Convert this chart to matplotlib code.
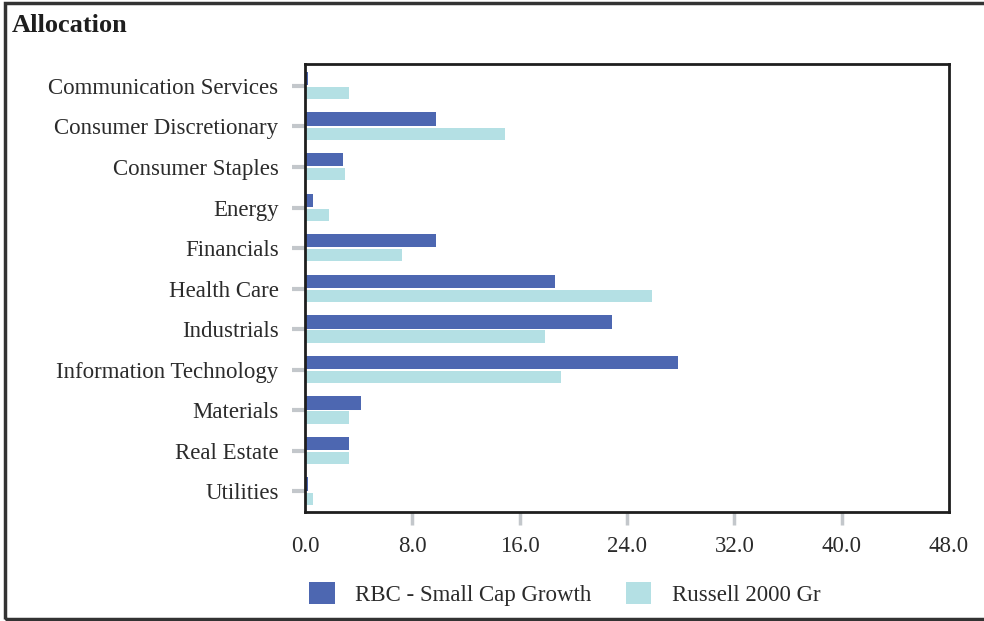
import matplotlib
matplotlib.use("Agg")
import matplotlib.pyplot as plt
from matplotlib.patches import Rectangle, Patch
import numpy as np

sectors = [
    "Communication Services",
    "Consumer Discretionary",
    "Consumer Staples",
    "Energy",
    "Financials",
    "Health Care",
    "Industrials",
    "Information Technology",
    "Materials",
    "Real Estate",
    "Utilities",
]
fund_weights = [0.2, 9.8, 2.8, 0.6, 9.8, 18.6, 22.9, 27.8, 4.2, 3.3, 0.2]
bench_weights = [3.3, 14.9, 3.0, 1.8, 7.2, 25.9, 17.9, 19.1, 3.3, 3.3, 0.6]
x_ticks = [0, 8, 16, 24, 32, 40, 48]
series_names = ["RBC - Small Cap Growth", "Russell 2000 Gr"]

FUND_COLOR = "#4D67B1"
BENCH_COLOR = "#B4E0E4"
TICK_GREY = "#C3C7CB"
TEXT = "#2B2B2B"
FS = 16.5

plt.rcParams["font.family"] = ["Liberation Serif", "DejaVu Serif"]

W, H = 984, 621
fig = plt.figure(figsize=(W / 100, H / 100), dpi=100)

# plot area in pixel terms
left, right, top, bottom = 305, 949, 64, 512
ax = fig.add_axes([left / W, 1 - bottom / H, (right - left) / W, (bottom - top) / H])

y = np.arange(len(sectors))
ax.barh(y - 0.18, fund_weights, height=0.33, color=FUND_COLOR, zorder=2)
ax.barh(y + 0.18, bench_weights, height=0.30, color=BENCH_COLOR, zorder=2)

ax.set_ylim(len(sectors) - 0.49, -0.54)
ax.set_xlim(0, 48)
ax.set_yticks(y)
ax.set_yticklabels(sectors, fontsize=FS, color=TEXT)
ax.set_xticks(x_ticks)
ax.set_xticklabels([f"{v:.1f}" for v in x_ticks], fontsize=FS, color=TEXT)

ax.tick_params(axis="y", length=9.5, width=3, color=TICK_GREY, pad=9.5)
ax.tick_params(axis="x", length=9.5, width=2.5, color=TICK_GREY, pad=8)
xt = ax.xaxis.get_major_ticks()
xt[0].tick1line.set_visible(False)
xt[-1].tick1line.set_visible(False)

for side, sp in ax.spines.items():
    sp.set_color("#1E1E1E")
    sp.set_linewidth(2.0)
    sp.set_zorder(3)

fig.text(12 / W, 1 - 26 / H, "Allocation", fontsize=19, fontweight="bold",
         color="#1E1E1E", va="center", ha="left")

handles = [Patch(facecolor=FUND_COLOR, edgecolor="none"),
           Patch(facecolor=BENCH_COLOR, edgecolor="none")]
fig.legend(handles, series_names, loc="center", ncol=2, frameon=False,
           bbox_to_anchor=(565 / W, 1 - 594 / H), fontsize=FS,
           handlelength=1.1, handleheight=1.1, handletextpad=0.9,
           columnspacing=1.5, labelcolor=TEXT)

# outer panel border (open on the right)
fig.patches.append(Rectangle((5 / W, 2 / H), 1.0, 1 - 5 / H,
                             transform=fig.transFigure, fill=False,
                             edgecolor="#333333", linewidth=2.5))

fig.savefig("out.png", dpi=100)
